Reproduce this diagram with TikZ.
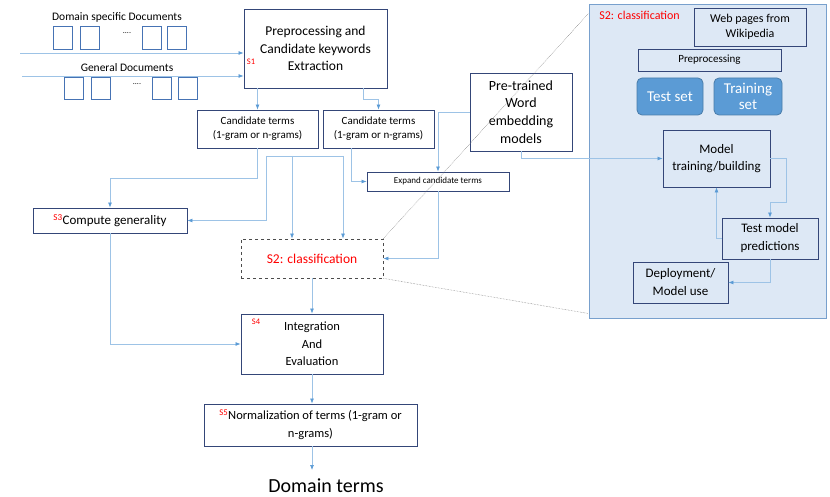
\documentclass[tikz,border=0pt]{standalone}
\usepackage{fontspec}
\setmainfont{Carlito}
\usetikzlibrary{arrows.meta}
\definecolor{boxc}{RGB}{52,70,120}
\definecolor{lineblue}{RGB}{157,195,230}
\definecolor{tipblue}{RGB}{91,155,213}
\definecolor{docblue}{RGB}{70,115,180}
\definecolor{panelfill}{RGB}{221,232,245}
\definecolor{panelline}{RGB}{120,160,205}
\definecolor{guidegray}{RGB}{120,120,120}

\begin{document}
\begin{tikzpicture}[x=1pt,y=-1pt,
    box/.style={draw=boxc,line width=0.9pt,fill=white,align=center,inner sep=1pt},
    pbox/.style={box,fill=panelfill},
    doc/.style={draw=docblue,line width=0.7pt,minimum width=19pt,inner sep=0pt},
    conn/.style={draw=lineblue,line width=0.7pt,-{Latex[length=5pt,width=4pt,color=tipblue]}},
    link/.style={draw=lineblue,line width=0.7pt},
    guide/.style={draw=guidegray,densely dotted,line width=0.5pt},
    tag/.style={text=red,inner sep=0pt,font=\fontsize{8.5}{9}\selectfont},
    setbox/.style={draw=tipblue!80!black,fill=tipblue,rounded corners=5pt,text=white,align=center,
      line width=0.8pt,minimum width=66pt,minimum height=37pt,inner sep=0pt,font=\fontsize{15}{15.5}\selectfont}]
\useasboundingbox (0,0) rectangle (830,497);

% input documents
\node[font=\fontsize{11.5}{12}\selectfont] (dsd) at (117,17) {Domain specific Documents};
\foreach \x [count=\i] in {63,89.5,151.5,177}
  \node[doc,minimum height=23pt] (da\i) at (\x,37.5) {};
\node[font=\fontsize{8}{8}\selectfont] (dadots) at (127,33) {....};
\node[font=\fontsize{11.5}{12}\selectfont] (gd) at (127,68) {General Documents};
\foreach \x [count=\i] in {73.5,100.5,161.5,187.5}
  \node[doc,minimum height=22pt] (db\i) at (\x,88) {};
\node[font=\fontsize{8}{8}\selectfont] (dbdots) at (137,84) {....};

% main pipeline
\node[box,minimum width=143pt,minimum height=79pt,font=\fontsize{13.5}{17.5}\selectfont] (s1) at (315.5,48.5)
  {Preprocessing and\\Candidate keywords\\Extraction};
\node[tag] (s1tag) at (251,62) {S1};
\node[box,minimum width=121pt,minimum height=38pt,font=\fontsize{11}{14}\selectfont] (ct1) at (257.5,129)
  {Candidate terms\\(1-gram or n-grams)};
\node[box,minimum width=111pt,minimum height=38pt,font=\fontsize{11}{14}\selectfont] (ct2) at (378.5,129)
  {Candidate terms\\(1-gram or n-grams)};
\node[box,minimum width=102pt,minimum height=78pt,font=\fontsize{14}{17.7}\selectfont] (pt) at (521,112)
  {Pre-trained\\Word\\embedding\\models};
\node[box,minimum width=142pt,minimum height=19pt,font=\fontsize{9}{10}\selectfont] (exp) at (438,181.5)
  {Expand candidate terms};
\node[box,minimum width=154pt,minimum height=25pt,font=\fontsize{13}{14}\selectfont] (cg) at (110,220.5)
  {\textsuperscript{\color{red}S3}Compute generality};
\node[draw=black!70,dashed,line width=0.8pt,minimum width=142pt,minimum height=39pt,text=red,
  font=\fontsize{13.5}{15}\selectfont] (cls) at (312,258.5) {S2: classification};
\node[box,minimum width=142pt,minimum height=60pt,font=\fontsize{12.5}{17.5}\selectfont] (s4) at (312,344)
  {Integration\\And\\Evaluation};
\node[tag] (s4tag) at (256,322) {S4};
\node[box,minimum width=213pt,minimum height=42pt,font=\fontsize{12.5}{18}\selectfont] (s5) at (310.5,425)
  {\textsuperscript{\color{red}S5}Normalization of terms (1-gram or\\n-grams)};
\node[font=\fontsize{20}{22}\selectfont] (dom) at (326,486) {Domain terms};

% S2 panel
\node[draw=panelline,fill=panelfill,line width=1pt,minimum width=237pt,minimum height=313pt,inner sep=0pt] (panel) at (707.5,161.5) {};
\node[text=red,font=\fontsize{12}{13}\selectfont] (pttl) at (639.5,15) {S2: classification};
\node[pbox,minimum width=112pt,minimum height=38pt,font=\fontsize{12}{15}\selectfont] (web) at (750,27)
  {Web pages from\\Wikipedia};
\node[pbox,minimum width=143pt,minimum height=22pt,font=\fontsize{11}{12}\selectfont] (prep) at (709.5,60) {Preprocessing};
\node[setbox] (test) at (670,96.5) {Test set};
\node[setbox,minimum width=68pt] (train) at (748,96.5) {Training\\set};
\node[pbox,minimum width=107pt,minimum height=57pt,font=\fontsize{13}{17.5}\selectfont] (mod) at (716.5,158.5)
  {Model\\training/building};
\node[pbox,minimum width=96pt,minimum height=41pt,font=\fontsize{13}{18}\selectfont] (tm) at (770,238.5)
  {Test model\\predictions};
\node[pbox,minimum width=95pt,minimum height=41pt,font=\fontsize{13}{18}\selectfont] (dep) at (680.5,282.5)
  {Deployment/\\Model use};

% zoom guides
\draw[guide] (cls.north east) -- ([yshift=-9pt]panel.north west);
\draw[guide] (cls.south east) -- ([yshift=5pt]panel.south west);

% connectors
\coordinate (ina) at (20,53);
\coordinate (inb) at (22,76);
\draw[conn] (ina) -- (ina -| s1.west);
\draw[conn] (inb) -- (inb -| s1.west);
\draw[conn] (s1.south -| ct1.north) -- (ct1.north);
\draw[conn] ([xshift=47.5pt]s1.south) -- ++(0,11) -| (ct2.north);
\draw[conn] (ct1.south) -- ++(0,30) -| (cg.north);
\coordinate (jl) at (266,156);
\coordinate (jm) at (292,156);
\coordinate (jr) at (343,156);
\draw[link] (jl) -- (jr);
\draw[conn] (jl) |- (cg.east);
\draw[conn] (jm) -- (jm |- cls.north);
\draw[conn] (jr) -- (jr |- cls.north);
\draw[conn] ([xshift=-27.5pt]ct2.south) |- (exp.west);
\draw[conn] (pt.west) -| (exp.north);
\draw[conn] (exp.south) |- (cls.east);
\draw[conn] (cls.south) -- (cls.south |- s4.north);
\draw[conn] (cg.south) |- (s4.west);
\draw[conn] (s4.south) -- (s4.south |- s5.north);
\coordinate (domin) at (312,470);
\draw[conn] (s5.south -| domin) -- (domin);
\draw[conn] (pt.south) |- (mod.west);
\draw[conn] (mod.east) -- ++(16,0) -- ++(0,44) -| (tm.north);
\draw[conn] (tm.west) -| (mod.south);
\draw[conn] (tm.south) |- (dep.east);
\end{tikzpicture}
\end{document}
